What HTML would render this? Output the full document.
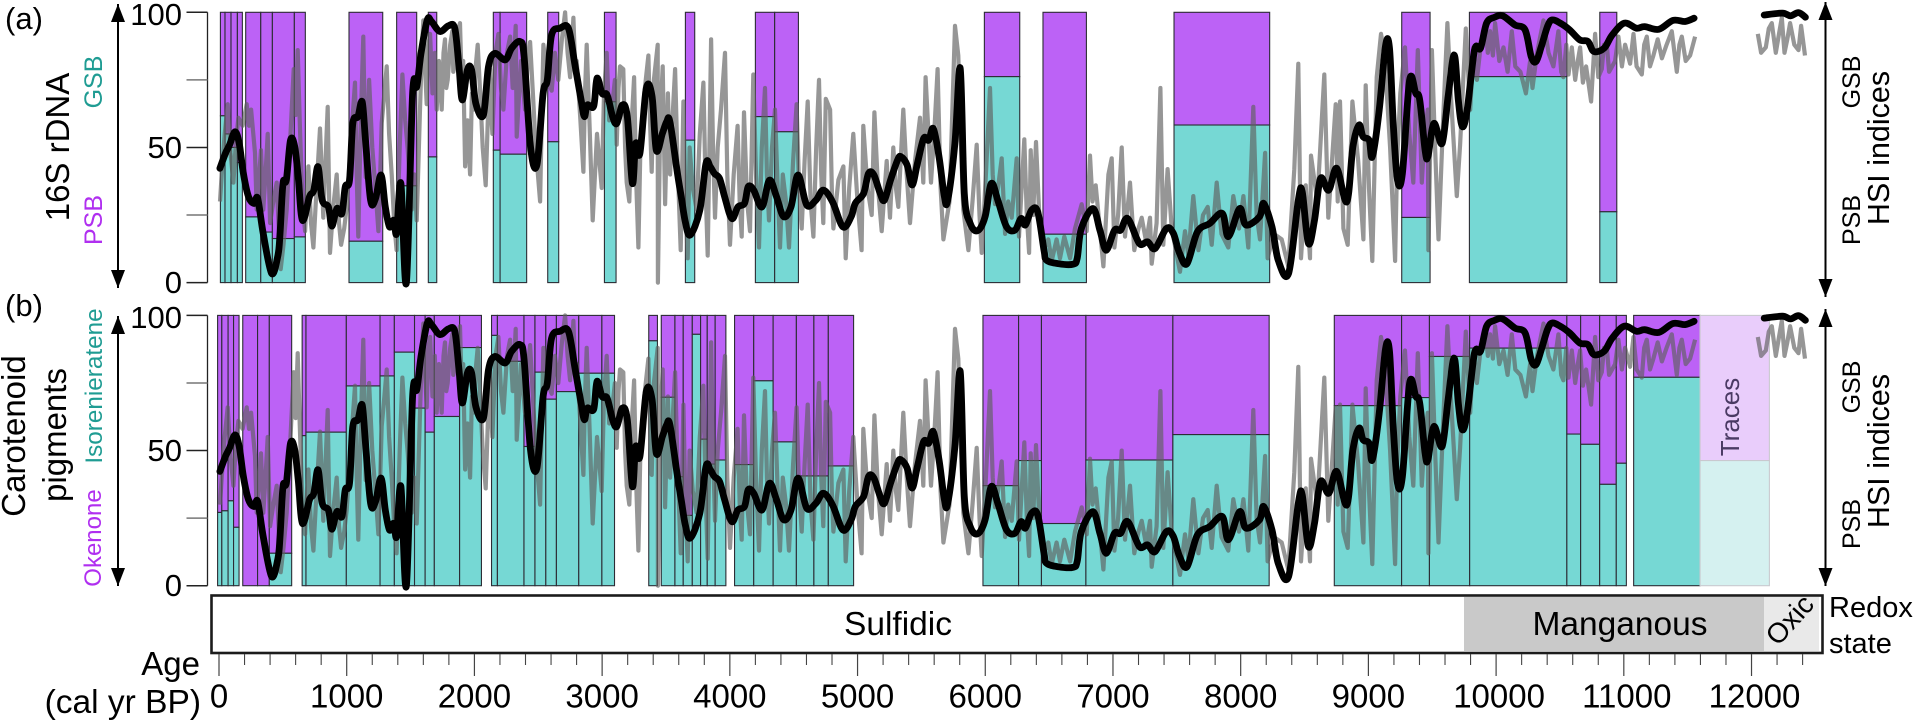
<!DOCTYPE html>
<html lang="en">
<head>
<meta charset="utf-8">
<title>16S rDNA and carotenoid pigment HSI indices with redox state</title>
<style>
html,body{margin:0;padding:0;background:#fff;width:1915px;height:723px;overflow:hidden}
svg{display:block}
text{font-family:"Liberation Sans",Arial,sans-serif;fill:#000}
</style>
</head>
<body>
<svg id="chart" xmlns="http://www.w3.org/2000/svg" width="1915" height="723" viewBox="0 0 1915 723">
  <defs>
    <marker id="ah" markerWidth="18" markerHeight="14" refX="18" refY="7" orient="auto" markerUnits="userSpaceOnUse" viewBox="0 0 18 14"><path d="M0 0L18 7L0 14Z" fill="#000"/></marker>
  </defs>
  <g id="panelA"></g>
  <g id="panelB"></g>

  <g>
    <rect x="212" y="596" width="1252" height="56" fill="#fff"/>
    <rect x="1464" y="597" width="300" height="54" fill="#c9c9c9"/>
    <rect x="1764" y="597" width="55" height="54" fill="#e9e9e9"/>
    <rect x="211.5" y="595.5" width="1611" height="57.5" fill="none" stroke="#1c1c1c" stroke-width="2.6"/>
    <text x="898" y="635" font-size="33.5" text-anchor="middle">Sulfidic</text>
    <text x="1620" y="635" font-size="33.5" text-anchor="middle">Manganous</text>
    <text transform="translate(1778 647) rotate(-48)" font-size="28">Oxic</text>
    <text x="1829" y="617" font-size="29">Redox</text>
    <text x="1829" y="653" font-size="29">state</text>
  </g>

  <g id="xAxis"></g>
  <text x="200" y="675" font-size="33" text-anchor="end">Age</text>
  <text x="201" y="713" font-size="33.5" text-anchor="end">(cal yr BP)</text>

  <text x="5" y="29" font-size="31">(a)</text>
  <text x="5" y="316" font-size="31">(b)</text>

  <text transform="translate(69 147) rotate(-90)" font-size="33" text-anchor="middle">16S rDNA</text>
  <text transform="translate(102 82) rotate(-90)" font-size="25" text-anchor="middle" style="fill:#1f9c93">GSB</text>
  <text transform="translate(102 220) rotate(-90)" font-size="25" text-anchor="middle" style="fill:#b02ff0">PSB</text>

  <text transform="translate(25 436) rotate(-90)" font-size="33" text-anchor="middle">Carotenoid</text>
  <text transform="translate(66 435) rotate(-90)" font-size="33" text-anchor="middle">pigments</text>
  <text transform="translate(102 386) rotate(-90)" font-size="24.3" text-anchor="middle" style="fill:#1f9c93">Isorenieratene</text>
  <text transform="translate(101 538) rotate(-90)" font-size="24" text-anchor="middle" style="fill:#b02ff0">Okenone</text>

  <line x1="118" y1="147" x2="118" y2="4" stroke="#000" stroke-width="2" marker-end="url(#ah)"/>
  <line x1="118" y1="147" x2="118" y2="288" stroke="#000" stroke-width="2" marker-end="url(#ah)"/>
  <line x1="118" y1="450" x2="118" y2="316" stroke="#000" stroke-width="2" marker-end="url(#ah)"/>
  <line x1="118" y1="450" x2="118" y2="586" stroke="#000" stroke-width="2" marker-end="url(#ah)"/>

  <line x1="1825.5" y1="147" x2="1825.5" y2="2" stroke="#000" stroke-width="2" marker-end="url(#ah)"/>
  <line x1="1825.5" y1="147" x2="1825.5" y2="297" stroke="#000" stroke-width="2" marker-end="url(#ah)"/>
  <line x1="1825.5" y1="450" x2="1825.5" y2="309" stroke="#000" stroke-width="2" marker-end="url(#ah)"/>
  <line x1="1825.5" y1="450" x2="1825.5" y2="586" stroke="#000" stroke-width="2" marker-end="url(#ah)"/>

  <text transform="translate(1860 82) rotate(-90)" font-size="25" text-anchor="middle">GSB</text>
  <text transform="translate(1860 220) rotate(-90)" font-size="25" text-anchor="middle">PSB</text>
  <text transform="translate(1889 148) rotate(-90)" font-size="30.5" text-anchor="middle">HSI indices</text>
  <text transform="translate(1860 387) rotate(-90)" font-size="25" text-anchor="middle">GSB</text>
  <text transform="translate(1860 524) rotate(-90)" font-size="25" text-anchor="middle">PSB</text>
  <text transform="translate(1889 451) rotate(-90)" font-size="30.5" text-anchor="middle">HSI indices</text>
</svg>

<script>
// ---------- data ----------
const xTickLabels = [0,1000,2000,3000,4000,5000,6000,7000,8000,9000,10000,11000,12000];
const xMinorTicks = [200,400,600,800,1200,1400,1600,1800,2200,2400,2600,2800,3200,3400,3600,3800,4200,4400,4600,4800,5200,5400,5600,5800,6200,6400,6600,6800,7200,7400,7600,7800,8200,8400,8600,8800,9200,9400,9600,9800,10200,10400,10600,10800,11200,11400,11600,11800,12200,12400];
const yTickValues = [0,25,50,75,100];
const yTickLabels = [0,null,50,null,100];

// Panel (a): 16S rDNA bars – start age, end age, GSB share
const rdnaStart = [11,47,94,144,209,327,418,590,1018,1391,1639,2148,2201,2574,3018,3652,4200,4351,5993,6452,7478,9261,9791,10812];
const rdnaEnd   = [47,94,144,183,327,418,590,676,1282,1548,1705,2201,2409,2660,3109,3725,4351,4537,6270,6792,8227,9483,10554,10945];
const rdnaGsb   = [61.7,55,50,44.4,24.3,18.7,16.3,16.9,15.3,35.8,46.5,49,47.5,52.1,66.9,52.7,61.4,55.8,76.2,17.9,58.3,24.1,76.2,26.2];

// Panel (b): pigment bars – start age, end age, isorenieratene share
const pigStart = [-11,22,71,114,186,302,394,651,681,997,1261,1373,1531,1614,1686,1884,2134,2180,2388,2474,2559,2642,2817,2998,3365,3463,3570,3635,3706,3771,3823,3885,4037,4187,4339,4521,4658,4771,5982,6261,6440,6788,7469,8733,9260,9478,9793,10554,10662,10811,10941,11077];
const pigEnd   = [22,71,114,157,302,394,569,681,997,1261,1373,1531,1614,1686,1884,2055,2180,2388,2474,2559,2642,2817,2998,3097,3433,3570,3635,3706,3771,3823,3885,3969,4187,4339,4521,4658,4771,4969,6261,6440,6788,7469,8223,9260,9478,9793,10554,10662,10811,10941,11020,11597];
const pigIso   = [27.1,27.7,31.4,21.6,0,0,12,55.5,56.8,73.9,77.6,86.4,65.7,56.8,62.6,88.1,92.6,83,51.5,79,69,71.8,78.6,78.6,90.6,69.7,40.3,26,93,54.2,45,46.5,44.8,75.8,53.2,40.6,40.6,44.3,37,46.3,23,46.5,55.9,66.6,69.6,84.8,87.9,56.1,52.3,37.5,45.3,77.1];

// Traces bar in panel (b)
const tracesStart = [11597];
const tracesEnd = [12140];
const tracesIso = [46.3];

// Grey high-resolution HSI series (ages / values, by stretch of the record)
const rawAges0 = [8,21,45,68,90, 113,132,152,185,217, 235,251,282,295,312, 329,347,364,381,400, 425,452,468,483,505, 530,560,585,600,616, 632,648,660,674,686, 700,720,739,765,791, 805,817,835,851,869, 895,922,940,956,980, 1000];
const rawVals0 = [30,40,55,66,48, 37,52,61,58,66, 58,64,48,27,38, 49,27,40,55,22, 30,37,20,5,14, 27,55,79,62,86, 60,37,26,19,30, 43,22,13,36,57, 40,24,46,65,11, 28,40,22,14,20, 28];

const rawAges1 = [1030,1065,1078,1091,1110, 1130,1149,1162,1175,1200, 1225,1248,1262,1274,1295, 1313,1332,1352,1372,1391, 1415,1436,1458,1478,1495, 1509,1530,1548,1562,1574, 1588,1600,1613,1626,1640, 1653,1672,1690,1705,1722, 1744,1758,1770,1780,1791, 1810,1827,1835,1843,1865, 1887,1900,1912,1927,1945, 1966,1980,1992];
const rawVals1 = [50,74,40,17,60, 91,39,55,75,50, 35,19,40,59,70, 80,55,40,22,12, 50,77,60,49,35, 27,40,23,45,64, 85,97,80,66,88, 92,70,85,64,82, 64,85,90,72,75, 88,93,78,80,92, 96,75,82,43,60, 40,70,64];

const rawAges2 = [2010,2026,2045,2065,2088, 2105,2122,2132,2141,2165, 2188,2208,2227,2255,2279, 2300,2323,2331,2365,2396, 2416,2436,2458,2480,2514, 2527,2540,2572,2605,2630, 2657,2685,2710,2730,2749, 2775,2790,2801,2830,2853, 2866,2879,2900,2926,2960, 2997,3015,3036,3055,3075];
const rawVals2 = [80,88,70,50,36, 60,79,62,55,85, 92,72,64,85,91, 72,95,54,82,64, 80,89,70,50,30, 60,88,75,71,85, 75,90,100,85,76, 98,78,82,60,41, 70,88,60,23,55, 35,70,85,60,64];

const rawAges3 = [3100,3114,3128,3140,3166, 3180,3192,3213,3232,3250, 3265,3284,3300,3330,3362, 3375,3388,3405,3435,3437, 3455,3474,3485,3493,3515, 3532,3550,3571,3590,3615, 3636,3652,3670,3685,3710, 3740,3765,3793,3810,3827, 3853,3868,3884,3905,3931, 3962,3980,4001,4030,4061, 4077,4093];
const rawVals3 = [75,51,72,80,79, 50,37,30,60,76, 40,13,50,70,84, 60,41,75,88,0, 60,80,50,29,70, 40,60,79,45,12, 67,30,9,50,35, 27,55,74,35,10, 90,50,24,50,64, 85,40,14,40,58, 30,17];

const rawAges4 = [4111,4135,4158,4184,4205, 4228,4250,4275,4290,4307, 4330,4354,4375,4393,4415, 4440,4463,4495,4523,4542, 4563,4585,4610,4632,4654, 4676,4698,4715,4732,4751, 4785,4798,4811,4850,4889, 4907,4935,4967,5000,5032, 5045,5078,5111,5132,5160, 5189];
const rawVals4 = [63,30,19,77,40, 13,50,72,40,23, 50,64,35,13,40, 30,13,45,66,35, 20,45,67,30,17, 50,75,40,22,68, 64,35,20,38,43, 9,35,55,30,12, 58,35,25,63,35, 19];

const rawAges5 = [5228,5254,5280,5300,5319, 5358,5385,5411,5450,5489, 5515,5533,5575,5600,5627, 5650,5672,5720,5763,5789, 5810,5828,5868,5900,5933, 5955,5972,6005,6037,6058, 6076,6100,6129,6155,6180, 6207,6246];
const rawVals5 = [45,24,50,35,28, 64,40,22,45,61, 37,76,37,55,79, 35,16,30,95,84, 50,27,12,30,51, 25,11,40,72,40, 29,35,46,18,30, 24,46];

const rawAges6 = [6264,6306,6325,6343,6356, 6375,6397,6421,6455,6494, 6520,6559,6585,6619,6664, 6703,6755,6794,6820,6840, 6865,6925,6964,6990,7011, 7040,7068,7094,7133,7167, 7200,7225,7260,7290,7303, 7342,7371,7394,7428,7460];
const rawVals6 = [17,53,25,11,49, 25,52,27,12,16, 8,16,9,17,9, 20,29,19,47,30, 36,6,40,46,13, 25,50,17,37,12, 20,24,15,24,7, 22,72,14,42,20];

const rawAges7 = [7525,7564,7590,7629,7669, 7705,7742,7773,7812,7850, 7903,7942,7987,8021,8060, 8099,8125,8151,8191,8211, 8260,8321,8373,8420,8451, 8472,8509,8543,8551,8600, 8655,8686];
const rawVals7 = [4,19,10,32,12, 25,28,14,37,18, 13,32,20,32,13, 65,25,16,48,9, 18,16,6,42,81, 9,36,9,47,30, 77,24];

const rawAges8 = [8744,8760,8778,8804,8838, 8875,8920,8961,8979,9005, 9031,9065,9099,9125,9170, 9209,9225,9250,9287,9320, 9352,9387,9418,9440,9465, 9470,9497,9522,9549,9585, 9619,9645,9692,9718,9763, 9797];
const rawVals8 = [66,30,67,20,14, 67,45,16,73,35, 8,76,92,85,50, 8,45,70,87,55, 37,86,37,55,64, 12,86,50,16,60, 96,70,32,51,94, 64];

const rawAges9 = [9823,9850,9880,9914,9935, 9953,9975,9992,10025,10058, 10090,10123,10150,10190,10233, 10266,10285,10320,10371,10410, 10449,10488,10510,10527,10550, 10567,10593,10619,10640,10658, 10680,10705,10744,10775,10800, 10828,10845,10867,10885,10932, 10958,10985,11010,11049,11076, 11100,11141,11160,11180,11205, 11232,11265,11298,11335,11376, 11415,11435,11454,11485,11519, 11558];
const rawVals9 = [87,75,88,96,85, 93,84,96,82,87, 78,93,80,78,70, 82,72,85,97,85, 80,93,78,76,88, 77,87,75,82,87, 74,80,67,92,76, 79,88,88,78,82, 91,80,88,81,92, 80,77,88,91,80, 84,90,83,88,93, 78,88,91,82,84, 91];

const rawGapAge = [11800];
const rawGapVal = [null];

const rawAges10 = [12049,12075,12112,12135,12159, 12190,12215,12237,12258,12280, 12302,12335,12368,12388,12419];
const rawVals10 = [92,85,87,94,96, 85,92,98,85,90, 96,88,86,95,84];

const rawAges = [].concat(rawAges0,rawAges1,rawAges2,rawAges3,rawAges4,rawAges5,rawAges6,rawAges7,rawAges8,rawAges9,rawGapAge,rawAges10);
const rawValues = [].concat(rawVals0,rawVals1,rawVals2,rawVals3,rawVals4,rawVals5,rawVals6,rawVals7,rawVals8,rawVals9,rawGapVal,rawVals10);

// Black smoothed HSI series
const smoothAges = [7,50,82,125,158,191,231,274,303,346,412,461,478,501,527,560,593,620,653,709,742,775,808,857,883,923,962,989,1022,1048,1088,1121,1147,1187,1225,1269,1302,1335,1368,1391,1424,1467,1516,1549,1582,1631,1664,1730,1796,1846,1879,1905,1945,1978,2011,2070,2110,2159,2241,2291,2357,2389,2439,2489,2538,2571,2604,2670,2736,2785,2835,2861,2884,2934,2960,3000,3039,3082,3115,3158,3197,3237,3263,3296,3346,3391,3424,3472,3505,3531,3586,3619,3651,3690,3765,3813,3846,3878,3920,3959,4015,4063,4115,4144,4187,4252,4310,4365,4421,4479,4534,4602,4674,4732,4804,4885,4950,4982,5047,5086,5128,5177,5210,5258,5313,5339,5388,5427,5469,5518,5557,5593,5638,5680,5706,5762,5804,5836,5882,5940,5999,6047,6102,6167,6232,6281,6314,6362,6411,6460,6480,6573,6687,6720,6752,6843,6898,6947,7012,7060,7115,7206,7271,7330,7418,7473,7520,7580,7661,7758,7856,7904,7992,8041,8148,8180,8245,8294,8375,8451,8482,8530,8578,8625,8689,8752,8831,8879,8927,8958,9006,9031,9085,9133,9165,9196,9228,9266,9323,9371,9402,9444,9466,9513,9577,9624,9672,9704,9735,9773,9831,9878,9926,9989,10052,10148,10227,10275,10313,10354,10402,10440,10513,10576,10655,10719,10766,10846,10909,11004,11099,11163,11274,11385,11480,11550,11800,12099,12241,12305,12368,12422];
const smoothValues = [42.3,47.8,50.9,55.8,51.5,40.4,31.8,29.3,31.1,18.2,3.4,10,18,36.7,37.9,52.7,50.3,39.2,23.1,31.8,34.2,42.9,30.5,28,20.9,27.4,25.6,35.5,37.9,58.9,61.4,66.9,52.7,30.5,31,39.8,28,20.6,23.1,18.2,36.7,0,70,72.5,84.8,97.2,96.6,92.9,95,94.1,79.9,67.6,78.7,78.7,66.3,62,79.9,84.8,82.4,86.7,89.2,83.6,50.3,43.5,70,75,91.6,94.1,94.1,81.1,67.6,61.4,65.7,65.3,75.6,70,69.4,61.4,58.9,65.7,61.4,36.7,51.5,47.8,71.9,68.8,49,55.2,59.5,59.5,41.6,31.8,22.5,17.6,26.8,44.1,42.9,40.4,38.5,31.8,23.7,28,29.3,35.5,34.2,28,37.9,31.8,24.4,28,39.8,28.7,30.5,34.2,29.9,20.6,24.4,29.3,33,40.4,39.8,33,30.5,37.9,45.3,46.6,43.5,36.1,44.1,53.4,52.7,57,46.6,31.8,30.5,51.5,79.3,33,21.9,19.2,24.4,36.7,29.9,20.6,19.4,23.7,21.3,26.8,26.2,12,8.3,7,6.8,9,20,27.4,19.4,12,19.4,19.4,23.7,14.5,15.1,12.6,20,18.2,11,7,18.8,21.9,25.6,17,27.4,21.3,24.4,29.3,20.6,8.3,3.4,30.5,33.6,14.5,23.1,38.5,34.2,42.3,29.9,50.3,58.3,54,52.7,46.6,63.8,87.3,86.7,57.7,37.9,40.4,74.9,70,67.6,49,46.6,58.9,51.5,68.8,84.2,67.6,57.7,63.8,86.1,86.7,96,98.2,98.7,95.3,93.5,83.6,81.8,87.3,94.7,97.2,95.7,93.5,89.8,89.2,85.5,86.7,91.6,96,94.1,94.7,93.7,97,96.6,97.8,null,99,99.7,98.7,99.9,98.2];

// ---------- axis functions ----------
function xScale(age){ return 219 + age * 0.12771; }
function yScaleA(v){ return 282.6 - v * 2.703; }
function yScaleB(v){ return 585.7 - v * 2.703; }

const NS = 'http://www.w3.org/2000/svg';
function make(tag, parent, attrs){
  const el = document.createElementNS(NS, tag);
  for (const k in attrs) el.setAttribute(k, attrs[k]);
  parent.appendChild(el);
  return el;
}
function segments(ages, vals, y){
  const segs = [];
  let cur = [];
  for (let i = 0; i < ages.length; i++){
    if (vals[i] === null){ if (cur.length) segs.push(cur); cur = []; continue; }
    cur.push([xScale(ages[i]), y(vals[i])]);
  }
  if (cur.length) segs.push(cur);
  return segs;
}
function linePath(ages, vals, y){
  return segments(ages, vals, y).map(function(s){
    return 'M' + s.map(function(p){ return p[0].toFixed(1) + ' ' + p[1].toFixed(1); }).join('L');
  }).join('');
}
function curvePath(ages, vals, y){
  return segments(ages, vals, y).map(function(s){
    let d = 'M' + s[0][0].toFixed(1) + ' ' + s[0][1].toFixed(1);
    for (let i = 0; i < s.length - 1; i++){
      const p0 = s[Math.max(i - 1, 0)], p1 = s[i], p2 = s[i + 1], p3 = s[Math.min(i + 2, s.length - 1)];
      const c1x = p1[0] + (p2[0] - p0[0]) / 6, c1y = p1[1] + (p2[1] - p0[1]) / 6;
      const c2x = p2[0] - (p3[0] - p1[0]) / 6, c2y = p2[1] - (p3[1] - p1[1]) / 6;
      d += 'C' + c1x.toFixed(1) + ' ' + c1y.toFixed(1) + ' ' + c2x.toFixed(1) + ' ' + c2y.toFixed(1) + ' ' + p2[0].toFixed(1) + ' ' + p2[1].toFixed(1);
    }
    return d;
  }).join('');
}

function drawBars(g, starts, ends, vals, y, upper, lower, edge, prefix){
  for (let i = 0; i < starts.length; i++){
    const x0 = xScale(starts[i]), x1 = xScale(ends[i]);
    const top = make('rect', g, {x:x0, y:y(100), width:x1-x0, height:y(vals[i])-y(100), fill:upper, stroke:edge, 'stroke-width':1.1});
    
    
    const bot = make('rect', g, {x:x0, y:y(vals[i]), width:x1-x0, height:y(0)-y(vals[i]), fill:lower, stroke:edge, 'stroke-width':1.1});
    
    
  }
}

function drawYAxis(g, y, panel){
  const axis = make('line', g, {x1:207.5, x2:207.5, y1:y(100), y2:y(0), stroke:'#222', 'stroke-width':1.3});
  
  
  for (let i = 0; i < yTickValues.length; i++){
    const v = yTickValues[i];
    const t = make('line', g, {x1:186.5, x2:207.5, y1:y(v), y2:y(v), stroke: yTickLabels[i] === null ? '#777' : '#222', 'stroke-width':1.5});
    
    
    if (yTickLabels[i] !== null){
      const lab = make('text', g, {x:182, y:y(v) + (v === 100 ? 12.5 : 10.5), 'font-size':31, 'text-anchor':'end'});
      lab.textContent = yTickLabels[i];
      
      
    }
  }
}

function drawLines(g, y, panel){
  const raw = make('path', g, {d:linePath(rawAges, rawValues, y), fill:'none', stroke:'#5f5f5f', 'stroke-opacity':0.66, 'stroke-width':4.2, 'stroke-linejoin':'round', 'stroke-linecap':'butt'});
  
  
  const smooth = make('path', g, {d:curvePath(smoothAges, smoothValues, y), fill:'none', stroke:'#000', 'stroke-width':6.8, 'stroke-linejoin':'round', 'stroke-linecap':'round'});
  
  
}

// ---------- render ----------
const gA = document.getElementById('panelA');
const gB = document.getElementById('panelB');

drawYAxis(gA, yScaleA, 'panel-a');
drawBars(gA, rdnaStart, rdnaEnd, rdnaGsb, yScaleA, '#bc62f6', '#76d8d4', '#2c2c34', 'rdna');
drawLines(gA, yScaleA, 'panel-a');

drawYAxis(gB, yScaleB, 'panel-b');
drawBars(gB, pigStart, pigEnd, pigIso, yScaleB, '#bc62f6', '#76d8d4', '#2c2c34', 'pigment');
drawBars(gB, tracesStart, tracesEnd, tracesIso, yScaleB, '#e9cdfb', '#d5f1f0', '#c9c9cf', 'traces');
const tracesLabel = make('text', gB, {transform:'translate(1739 417) rotate(-90)', 'font-size':26, 'text-anchor':'middle', style:'fill:#4a3a63'});
tracesLabel.textContent = 'Traces';


drawLines(gB, yScaleB, 'panel-b');

const gX = document.getElementById('xAxis');
for (let i = 0; i < xMinorTicks.length; i++){
  const t = make('line', gX, {x1:xScale(xMinorTicks[i]), x2:xScale(xMinorTicks[i]), y1:654, y2:665, stroke:'#444', 'stroke-width':1.1});
  
  
}
for (let i = 0; i < xTickLabels.length; i++){
  const v = xTickLabels[i];
  const t = make('line', gX, {x1:xScale(v), x2:xScale(v), y1:654, y2:676, stroke:'#444', 'stroke-width':1.2});
  
  
  const lab = make('text', gX, {x:xScale(v) + (v >= 10000 ? 3 : 0), y:707.5, 'font-size':33, 'text-anchor':'middle'});
  lab.textContent = v;
  
  
}
</script>
</body>
</html>
